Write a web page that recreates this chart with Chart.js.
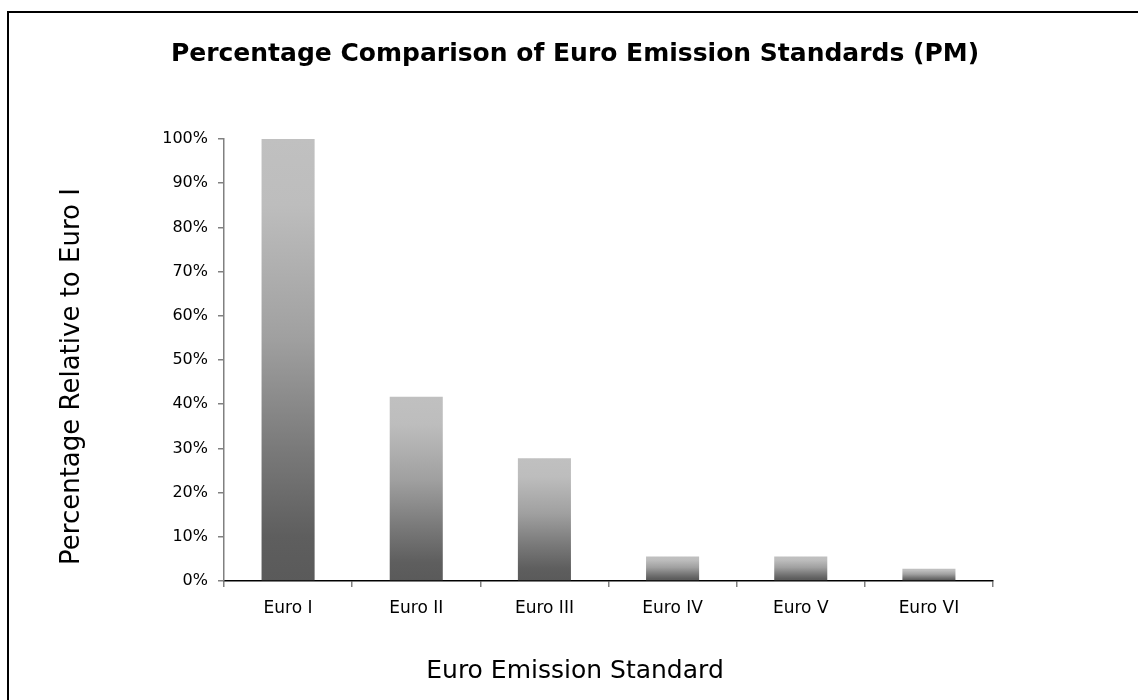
<!DOCTYPE html>
<html>
<head>
<meta charset="utf-8">
<script src="https://cdn.jsdelivr.net/npm/chart.js@4/dist/chart.umd.min.js"></script>
<style>
  html, body { margin: 0; padding: 0; background: #fff; }
  #wrap { position: relative; width: 1138px; height: 700px; overflow: hidden; }
  #frame { position: absolute; left: 7px; top: 11px; width: 1200px; height: 800px; border: 2px solid #000; box-sizing: border-box; }
  #chart { position: absolute; left: 0; top: 0; }
</style>
</head>
<body>
<div id="wrap">
  <div id="frame"></div>
  <canvas id="chart" width="1138" height="700"></canvas>
</div>
<script>
// PM limits expressed relative to Euro I
const standards = ["Euro I", "Euro II", "Euro III", "Euro IV", "Euro V", "Euro VI"];
const relativePct = [100, 41.67, 27.78, 5.56, 5.56, 2.78];
const yTickStep = 10;
const yMax = 100;

const FONT = "'DejaVu Sans', Verdana, sans-serif";

// vertical grey gradient, light on top, dark at the base of every bar
function barGradient(ctx) {
  const chart = ctx.chart;
  if (!chart.chartArea || ctx.type !== "data") return "#8c8c8c";
  const y = chart.scales.y;
  const top = y.getPixelForValue(ctx.raw);
  const base = y.getPixelForValue(0);
  const g = chart.ctx.createLinearGradient(0, top, 0, base);
  g.addColorStop(0, "#c0c0c0");
  g.addColorStop(0.15, "#bdbdbd");
  g.addColorStop(0.45, "#a0a0a0");
  g.addColorStop(0.7, "#7a7a7a");
  g.addColorStop(0.9, "#5e5e5e");
  g.addColorStop(1, "#5a5a5a");
  return g;
}

new Chart(document.getElementById("chart"), {
  type: "bar",
  data: {
    labels: standards,
    datasets: [{
      label: "PM",
      data: relativePct,
      backgroundColor: barGradient,
      borderWidth: 0,
      barPercentage: 0.414,
      categoryPercentage: 1
    }]
  },
  options: {
    responsive: false,
    animation: false,
    layout: { padding: { top: 11, left: 58, right: 46, bottom: 14 } },
    plugins: {
      legend: { display: false },
      tooltip: { enabled: false },
      title: {
        display: true,
        text: "Percentage Comparison of Euro Emission Standards (PM)",
        color: "#000",
        font: { family: FONT, size: 25, weight: "bold" },
        padding: { top: 28, bottom: 70 }
      },
      // x-axis caption, centred on the whole chart like the original
      subtitle: {
        display: true,
        position: "bottom",
        text: "Euro Emission Standard",
        color: "#000",
        font: { family: FONT, size: 25 },
        padding: { top: 26.6, bottom: 0 }
      }
    },
    scales: {
      x: {
        grid: { display: true, drawOnChartArea: false, drawTicks: true, tickLength: 6, color: "#808080", lineWidth: 1.5 },
        border: { display: true, color: "#000", width: 1.5 },
        ticks: { color: "#000", font: { family: FONT, size: 17 }, padding: 11 }
      },
      y: {
        min: 0,
        max: yMax,
        afterFit: (scale) => { scale.width = 166; },
        grid: { display: true, drawOnChartArea: false, drawTicks: true, tickLength: 6, color: "#808080", lineWidth: 1.5 },
        border: { display: true, color: "#808080", width: 1.5 },
        ticks: {
          stepSize: yTickStep,
          color: "#000",
          font: { family: FONT, size: 16 },
          padding: 10,
          callback: (v) => v + "%"
        },
        title: {
          display: true,
          text: "Percentage Relative to Euro I    ",
          color: "#000",
          font: { family: FONT, size: 26 },
          padding: { top: -1, bottom: 0 }
        }
      },
      // empty spacer on the right so the plot sits where the original does
      spacer: {
        position: "right",
        display: true,
        afterFit: (scale) => { scale.width = 99; },
        grid: { display: false },
        border: { display: false },
        ticks: { display: false }
      }
    }
  }
});
</script>
</body>
</html>
